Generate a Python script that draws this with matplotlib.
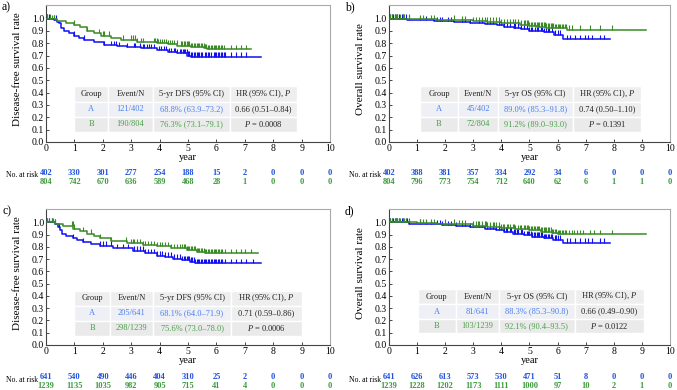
import numpy as np
import matplotlib
matplotlib.use('Agg')
import matplotlib.pyplot as plt
from matplotlib.patches import Rectangle
from matplotlib.transforms import blended_transform_factory

plt.rcParams['font.family'] = 'Liberation Serif'
plt.rcParams['mathtext.fontset'] = 'custom'
plt.rcParams['mathtext.rm'] = 'Liberation Serif'
plt.rcParams['mathtext.it'] = 'Liberation Serif:italic'

# Цвета групп
BLUE = '#1010f0'
GREEN = '#3a8a26'
BLUE_TXT = '#4a7ff0'
GREEN_TXT = '#4aa04a'
BLUE_NUM = '#2050e0'
GREEN_NUM = '#3c9c3c'

years = list(range(11))

# ---- a) DFS, когорта 1 ----
a_A_t = [0, 0.28, 0.4, 0.46, 0.52, 0.63, 0.8, 0.99, 1.15, 1.34, 1.69, 2.04, 2.5, 2.85, 3.33, 3.9, 4.3, 4.6, 4.96, 5.1, 7.56]
a_A_s = [1.0, 0.99, 0.975, 0.96, 0.92, 0.90, 0.88, 0.86, 0.845, 0.83, 0.81, 0.785, 0.775, 0.77, 0.76, 0.745, 0.73, 0.72, 0.70, 0.69, 0.69]
a_A_cens = [0.05, 0.1, 0.28, 0.34, 0.99, 1.34, 2.04, 2.28, 2.4, 2.45, 2.57, 2.86, 3.1, 3.15, 3.3, 3.4, 3.45,
            3.55, 3.62, 3.7, 3.8, 3.98, 4.05, 4.15, 4.22, 4.33, 4.4, 4.5, 4.55, 4.62, 4.7, 4.74, 4.82, 4.86,
            4.9, 4.95, 5.0, 5.05, 5.1, 5.15, 5.2, 5.25, 5.3, 5.35, 5.4, 5.45, 5.5, 5.6, 5.65, 5.7, 5.75, 5.8,
            5.9, 5.95, 6.0, 6.05, 6.1, 6.15, 6.2, 6.25, 6.3, 6.5, 6.68, 6.85, 7.03]
a_B_t = [0, 0.2, 0.4, 0.7, 0.99, 1.2, 1.45, 1.7, 1.93, 2.3, 2.63, 3.2, 3.92, 4.3, 4.62, 5.1, 5.56, 5.67, 7.2]
a_B_s = [1.0, 0.995, 0.98, 0.965, 0.95, 0.93, 0.90, 0.88, 0.86, 0.845, 0.83, 0.81, 0.80, 0.79, 0.78, 0.77, 0.76, 0.75, 0.75]
a_B_cens = [0.05, 0.15, 0.22, 0.28, 0.99, 1.45, 1.87, 2.0, 2.05, 2.2, 2.7, 3.0, 3.05, 3.12, 3.2, 3.35, 3.42,
            3.8, 3.85, 3.9, 3.95, 4.02, 4.08, 4.15, 4.22, 4.3, 4.38, 4.45, 4.52, 4.6, 4.74, 4.8, 4.85, 4.9,
            4.95, 5.0, 5.05, 5.1, 5.15, 5.2, 5.25, 5.3, 5.35, 5.4, 5.45, 5.5, 5.55, 5.6, 5.65, 5.7, 5.75,
            5.8, 5.85, 5.9, 5.95, 6.0, 6.05, 6.1, 6.15, 6.2, 6.27, 6.5, 6.68, 6.85, 7.05]
a_risk_A = [402, 330, 301, 277, 254, 188, 15, 2, 0, 0, 0]
a_risk_B = [804, 742, 670, 636, 589, 468, 28, 1, 0, 0, 0]
a_rows = [['121/402', '68.8% (63.9–73.2)', '0.66 (0.51–0.84)'],
          ['190/804', '76.3% (73.1–79.1)', '$P$ = 0.0008']]

# ---- b) OS, когорта 1 ----
b_A_t = [0, 0.64, 1.0, 1.6, 2.3, 2.9, 3.4, 3.84, 4.1, 4.44, 4.7, 5.0, 5.5, 5.86, 6.2, 7.88]
b_A_s = [1.0, 0.99, 0.985, 0.98, 0.97, 0.96, 0.955, 0.945, 0.935, 0.925, 0.915, 0.90, 0.89, 0.87, 0.835, 0.835]
b_A_cens = [0.05, 0.1, 0.15, 0.2, 0.3, 0.35, 0.45, 0.5, 0.6, 0.7, 1.1, 1.3, 1.7, 1.8, 1.9, 2.1, 2.2, 2.6, 2.7,
            2.9, 3.2, 3.3, 3.5, 3.6, 3.7, 3.9, 4.0, 4.1, 4.2, 4.3, 4.45, 4.5, 4.6, 4.7, 4.8, 4.9, 5.0, 5.05,
            5.1, 5.2, 5.25, 5.3, 5.4, 5.45, 5.5, 5.6, 5.65, 5.7, 5.8, 5.9, 6.0, 6.1, 6.33, 6.45, 6.62, 6.81,
            6.99, 7.1, 7.22, 7.52, 7.65]
b_B_t = [0, 1.0, 1.7, 2.5, 3.0, 3.5, 4.0, 4.67, 5.0, 5.27, 5.6, 5.86, 6.33, 9.15]
b_B_s = [1.0, 0.995, 0.99, 0.985, 0.98, 0.975, 0.965, 0.95, 0.94, 0.935, 0.925, 0.92, 0.91, 0.91]
b_B_cens = [0.05, 0.1, 0.2, 0.25, 0.3, 0.4, 0.5, 0.55, 0.7, 1.1, 1.2, 1.5, 1.6, 2.3, 2.6, 2.7, 3.0, 3.1, 3.2,
            3.3, 3.4, 3.5, 3.6, 3.7, 3.8, 3.9, 4.0, 4.1, 4.2, 4.3, 4.4, 4.5, 4.6, 4.7, 4.8, 4.85, 4.9, 4.95,
            5.0, 5.05, 5.1, 5.15, 5.2, 5.25, 5.3, 5.35, 5.4, 5.45, 5.5, 5.55, 5.6, 5.65, 5.7, 5.75, 5.8,
            5.85, 5.9, 5.95, 6.0, 6.05, 6.1, 6.15, 6.2, 6.25, 6.3, 6.4, 6.5, 6.81, 7.17, 7.52, 7.94]
b_risk_A = [402, 388, 381, 357, 334, 292, 34, 6, 0, 0, 0]
b_risk_B = [804, 796, 773, 754, 712, 640, 62, 6, 1, 1, 0]
b_rows = [['45/402', '89.0% (85.3–91.8)', '0.74 (0.50–1.10)'],
          ['72/804', '91.2% (89.0–93.0)', '$P$ = 0.1391']]

# ---- c) DFS, когорта 2 ----
c_A_t = [0, 0.3, 0.43, 0.5, 0.55, 0.7, 0.96, 1.1, 1.3, 1.6, 1.9, 2.37, 3.07, 3.5, 3.9, 4.2, 4.48, 4.8, 5.07, 5.25, 7.56]
c_A_s = [1.0, 0.99, 0.96, 0.94, 0.91, 0.89, 0.87, 0.855, 0.84, 0.825, 0.81, 0.79, 0.77, 0.75, 0.73, 0.72, 0.705, 0.69, 0.68, 0.67, 0.67]
c_A_cens = [0.05, 0.1, 0.2, 0.3, 0.45, 0.96, 1.3, 1.9, 2.0, 2.1, 2.3, 2.5, 2.7, 2.9, 3.1, 3.2, 3.3, 3.4, 3.5,
            3.6, 3.7, 3.8, 3.9, 4.0, 4.1, 4.2, 4.3, 4.4, 4.5, 4.6, 4.7, 4.8, 4.85, 4.9, 4.95, 5.0, 5.05, 5.1,
            5.15, 5.2, 5.25, 5.3, 5.35, 5.4, 5.45, 5.5, 5.55, 5.6, 5.65, 5.7, 5.75, 5.8, 5.85, 5.9, 5.95,
            6.0, 6.05, 6.1, 6.15, 6.2, 6.3, 6.5, 6.7, 6.85, 7.05, 7.3]
c_B_t = [0, 0.3, 0.6, 0.96, 1.2, 1.43, 1.7, 1.9, 2.3, 2.84, 3.4, 3.9, 4.4, 4.95, 5.3, 5.6, 7.45]
c_B_s = [1.0, 0.99, 0.975, 0.95, 0.93, 0.91, 0.89, 0.875, 0.85, 0.83, 0.815, 0.805, 0.79, 0.775, 0.76, 0.75, 0.75]
c_B_cens = [0.05, 0.1, 0.2, 0.25, 0.3, 0.9, 0.95, 1.0, 1.3, 1.6, 1.9, 2.3, 2.8, 3.0, 3.05, 3.1, 3.2, 3.3,
            3.4, 3.5, 3.6, 3.7, 3.8, 3.9, 4.0, 4.1, 4.2, 4.3, 4.4, 4.5, 4.6, 4.7, 4.8, 4.85, 4.9, 4.95, 5.0,
            5.05, 5.1, 5.15, 5.2, 5.25, 5.3, 5.35, 5.4, 5.45, 5.5, 5.55, 5.6, 5.65, 5.7, 5.75, 5.8, 5.85,
            5.9, 5.95, 6.0, 6.05, 6.1, 6.15, 6.2, 6.3, 6.5, 6.7, 6.85, 7.0, 7.2]
c_risk_A = [641, 540, 490, 446, 404, 310, 25, 2, 0, 0, 0]
c_risk_B = [1239, 1135, 1035, 982, 905, 715, 41, 4, 0, 0, 0]
c_rows = [['205/641', '68.1% (64.0–71.9)', '0.71 (0.59–0.86)'],
          ['298/1239', '75.6% (73.0–78.0)', '$P$ = 0.0006']]

# ---- d) OS, когорта 2 ----
d_A_t = [0, 0.7, 1.2, 1.9, 2.4, 2.9, 3.4, 3.8, 4.1, 4.4, 4.8, 5.1, 5.5, 5.85, 6.2, 7.88]
d_A_s = [1.0, 0.99, 0.985, 0.98, 0.97, 0.96, 0.95, 0.94, 0.925, 0.91, 0.895, 0.885, 0.875, 0.86, 0.835, 0.835]
d_A_cens = b_A_cens + [0.25, 0.65, 1.5, 2.4, 3.0, 3.8, 4.15, 4.35, 4.55, 4.75, 4.95, 5.15, 5.35, 5.55, 5.75, 5.95]
d_B_t = [0, 1.0, 1.7, 2.4, 3.0, 3.5, 4.0, 4.5, 5.0, 5.4, 5.8, 6.0, 9.15]
d_B_s = [1.0, 0.995, 0.99, 0.985, 0.975, 0.965, 0.955, 0.945, 0.935, 0.925, 0.915, 0.905, 0.905]
d_B_cens = b_B_cens + [0.35, 0.6, 1.3, 2.0, 2.5, 3.15, 3.45, 3.75, 4.05, 4.25, 4.45, 4.65, 6.6, 6.7, 6.9, 7.3]
d_risk_A = [641, 626, 613, 573, 530, 471, 51, 8, 0, 0, 0]
d_risk_B = [1239, 1228, 1202, 1173, 1111, 1000, 97, 10, 2, 1, 0]
d_rows = [['81/641', '88.3% (85.3–90.8)', '0.66 (0.49–0.90)'],
          ['103/1239', '92.1% (90.4–93.5)', '$P$ = 0.0122']]

DFS_HEAD = ['Group', 'Event/N', '5-yr DFS (95% CI)', 'HR (95% CI), $P$']
OS_HEAD = ['Group', 'Event/N', '5-yr OS (95% CI)', 'HR (95% CI), $P$']


def surv_at(t_arr, s_arr, tc):
    idx = np.searchsorted(np.array(t_arr), tc, side='right') - 1
    return np.array(s_arr)[idx]


def draw_km(ax, t, s, cens, color):
    ax.step(t, s, where='post', color=color, lw=1.1, zorder=3)
    cs = surv_at(t, s, cens)
    ax.vlines(cens, cs, cs + 0.035, color=color, lw=0.8, zorder=3)


def draw_table(ax, head, rows, xs, ys):
    texts = [head, ['A'] + rows[0], ['B'] + rows[1]]
    for r in range(3):
        for c in range(4):
            if r == 1 and c < 3:
                bg = '#eef0f5'
            elif r == 2:
                bg = '#eaeaea'
            else:
                bg = '#eeeeee'
            ax.add_patch(Rectangle((xs[c], ys[r + 1]), xs[c + 1] - xs[c], ys[r] - ys[r + 1],
                                   facecolor=bg, edgecolor='white', lw=1.0, zorder=2))
            if r == 0 or c == 3:
                col = '#222222'
            else:
                col = BLUE_TXT if r == 1 else GREEN_TXT
            ax.text((xs[c] + xs[c + 1]) / 2, (ys[r] + ys[r + 1]) / 2, texts[r][c],
                    ha='center', va='center', fontsize=6, color=col, zorder=4)


fig = plt.figure(figsize=(6.77, 3.9), dpi=100)

panels = [
    ('a)', [0.068, 0.636, 0.4195, 0.3513], 'Disease-free survival rate', DFS_HEAD,
     a_A_t, a_A_s, a_A_cens, a_B_t, a_B_s, a_B_cens, a_risk_A, a_risk_B, a_rows,
     [0.99, 2.18, 3.77, 6.48, 8.84], [0.45, 0.325, 0.205, 0.08], (173, 182.5)),
    ('b)', [0.5746, 0.636, 0.415, 0.3513], 'Overall survival rate', OS_HEAD,
     b_A_t, b_A_s, b_A_cens, b_B_t, b_B_s, b_B_cens, b_risk_A, b_risk_B, b_rows,
     [1.10, 2.46, 3.88, 6.55, 8.97], [0.45, 0.325, 0.205, 0.08], (173, 182.5)),
    ('c)', [0.068, 0.1154, 0.4195, 0.3487], 'Disease-free survival rate', DFS_HEAD,
     c_A_t, c_A_s, c_A_cens, c_B_t, c_B_s, c_B_cens, c_risk_A, c_risk_B, c_rows,
     [0.99, 2.25, 3.77, 6.51, 9.0], [0.443, 0.321, 0.196, 0.076], (377, 386.5)),
    ('d)', [0.5746, 0.1154, 0.415, 0.3487], 'Overall survival rate', OS_HEAD,
     d_A_t, d_A_s, d_A_cens, d_B_t, d_B_s, d_B_cens, d_risk_A, d_risk_B, d_rows,
     [1.03, 2.38, 3.91, 6.62, 9.07], [0.456, 0.334, 0.212, 0.098], (377, 386.5)),
]

for (lab, pos, ylab, head, At, As, Ac, Bt, Bs, Bc, rA, rB, rows, xs, ys, ry) in panels:
    ax = fig.add_axes(pos)
    draw_km(ax, At, As, Ac, BLUE)
    draw_km(ax, Bt, Bs, Bc, GREEN)
    draw_table(ax, head, rows, xs, ys)

    ax.set_xlim(0, 10)
    ax.set_ylim(0, 1.11)
    ax.set_xticks(years)
    ax.set_yticks(np.arange(0, 1.01, 0.1))
    ax.set_yticklabels(['%.1f' % v for v in np.arange(0, 1.01, 0.1)])
    ax.tick_params(direction='in', length=2, width=0.5, labelsize=7, pad=1.5)
    for sp in ['left', 'bottom']:
        ax.spines[sp].set_color('#444444')
        ax.spines[sp].set_linewidth(0.8)
    for sp in ['top', 'right']:
        ax.spines[sp].set_color('#aaaaaa')
        ax.spines[sp].set_linewidth(0.8)
    ax.set_xlabel('year', fontsize=7.5, labelpad=0)
    ax.set_ylabel(ylab, fontsize=8)
    ax.yaxis.set_label_coords(-0.085, 0.53)

    # подпись панели
    fig.text(pos[0] - 0.065, pos[1] + pos[3] - 0.005, lab, fontsize=8.5, ha='left', va='center')

    # число пациентов под риском
    tr = blended_transform_factory(ax.transData, fig.transFigure)
    for i, yr in enumerate(years):
        ax.text(yr, 1 - ry[0] / 390, str(rA[i]), transform=tr, ha='center', va='center',
                fontsize=6, fontweight='bold', color=BLUE_NUM)
        ax.text(yr, 1 - ry[1] / 390, str(rB[i]), transform=tr, ha='center', va='center',
                fontsize=6, fontweight='bold', color=GREEN_NUM)
    fig.text(pos[0] - 0.012, 1 - (ry[0] + 2.5) / 390, 'No. at risk', fontsize=5.5,
             ha='right', va='center')

fig.savefig('out.png', dpi=100)
